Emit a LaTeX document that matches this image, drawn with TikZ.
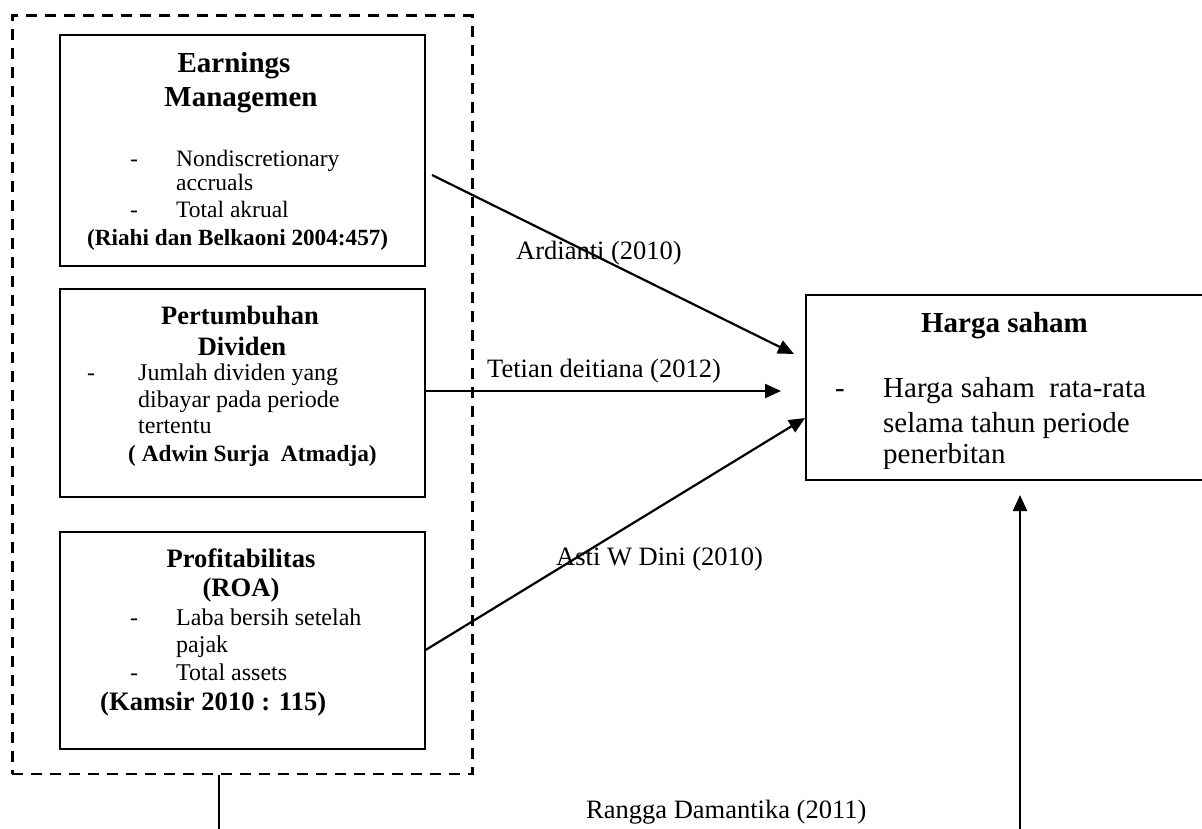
\documentclass[tikz,border=0pt]{standalone}
\usepackage{fontspec}
\setmainfont{Liberation Serif}
\usetikzlibrary{arrows.meta}
\newcommand\fsz[1]{\fontsize{#1}{#1}\selectfont}
\tikzset{
  varbox/.style={draw, line width=1.6pt, rectangle, minimum width=365pt, inner sep=0pt},
  grpbox/.style={draw, line width=2.6pt, dash pattern=on 11pt off 8pt, rectangle, inner sep=0pt},
  txt/.style={anchor=base west, inner sep=0pt},
  ctxt/.style={anchor=base, inner sep=0pt},
  arr/.style={line width=2.2pt, -{Triangle[length=16pt,width=14pt]}},
  plain/.style={line width=1.6pt}
}
\begin{document}
\begin{tikzpicture}[x=1pt,y=-1pt]
\useasboundingbox (0,0) rectangle (1202,829);
% group box
\node[grpbox, minimum width=460pt, minimum height=758pt, anchor=north west] (grp) at (11,14.5) {};
% variable boxes
\node[varbox, minimum height=231pt, anchor=north west] (em) at (59,34) {};
\node[varbox, minimum height=208pt, anchor=north west] (pd) at (59,288) {};
\node[varbox, minimum height=217pt, anchor=north west] (pr) at (59,531) {};
% Harga saham box (right edge runs past the page)
\begin{scope}
\clip (0,0) rectangle (1202,829);
\node[varbox, minimum width=420pt, minimum height=185pt, anchor=north west] (hs) at (805,294) {};
\end{scope}
% texts box 1
\node[ctxt] (em1) at (234,73) {\fsz{29}\bfseries Earnings};
\node[ctxt] (em2) at (241,107) {\fsz{29}\bfseries Managemen};
\node[txt] (em3d) at (130,167) {\fsz{23.5}-};
\node[txt] (em3) at (176,167) {\fsz{23.5}Nondiscretionary};
\node[txt] (em4) at (176,191) {\fsz{23.5}accruals};
\node[txt] (em5d) at (130,218) {\fsz{23.5}-};
\node[txt] (em5) at (176,218) {\fsz{23.5}Total akrual};
\node[txt] (em6) at (87,245) {\fsz{23.2}\bfseries (Riahi dan Belkaoni 2004:457)};
% texts box 2
\node[ctxt] (pd1) at (240,324) {\fsz{26.5}\bfseries Pertumbuhan};
\node[ctxt] (pd2) at (242,355) {\fsz{26.5}\bfseries Dividen};
\node[txt] (pd3d) at (87,380) {\fsz{24}-};
\node[txt] (pd3) at (138,380) {\fsz{24}Jumlah dividen yang};
\node[txt] (pd4) at (138,407) {\fsz{24}dibayar pada periode};
\node[txt] (pd5) at (138,433) {\fsz{24}tertentu};
\node[txt] (pd6) at (128,461) {\fsz{23.3}\bfseries ( Adwin Surja\ \ Atmadja)};
% texts box 3
\node[ctxt] (pr1) at (241,567) {\fsz{26.6}\bfseries Profitabilitas};
\node[ctxt] (pr2) at (241,596) {\fsz{26.6}\bfseries (ROA)};
\node[txt] (pr3d) at (130,625) {\fsz{24}-};
\node[txt] (pr3) at (176,625) {\fsz{24}Laba bersih setelah};
\node[txt] (pr4) at (176,652) {\fsz{24}pajak};
\node[txt] (pr5d) at (130,680) {\fsz{24}-};
\node[txt] (pr5) at (176,680) {\fsz{24}Total assets};
\node[txt] (pr6) at (100,710) {\fsz{26.6}\bfseries (Kamsir 2010 : 115)};
% Harga saham texts
\node[ctxt] (hs1) at (1004.5,332) {\fsz{29}\bfseries Harga saham};
\node[txt] (hs2d) at (835,397) {\fsz{29}-};
\node[txt] (hs2) at (883,397) {\fsz{29}Harga saham\ \ rata-rata};
\node[txt] (hs3) at (883,432) {\fsz{29}selama tahun periode};
\begin{scope}
\clip (800,300) rectangle (1202,468);
\node[txt] (hs4) at (883,463) {\fsz{29}penerbitan};
\end{scope}
% labels
\node[txt] (l1) at (516,259) {\fsz{26.5}Ardianti (2010)};
\node[txt] (l2) at (487,377) {\fsz{26.5}Tetian deitiana (2012)};
\node[txt] (l3) at (556,565) {\fsz{26.5}Asti W Dini (2010)};
\node[txt] (l4) at (586,818) {\fsz{26.5}Rangga Damantika (2011)};
% connector end points
\coordinate (a1s) at (432,175);
\coordinate (a1e) at (794,354);
\coordinate (a2e) at (781,391);
\coordinate (a3s) at (424,650);
\coordinate (a3e) at (805,418);
\coordinate (vb) at (219,829);
\coordinate (ub) at (1020,829);
\coordinate (ut) at (1020,495);
% connectors
\draw[arr] (a1s) -- (a1e);
\draw[arr] (pd.east |- a2e) -- (a2e);
\draw[arr] (pr.east |- a3s) -- (a3e);
\draw[plain] (grp.south -| vb) -- (vb);
\draw[arr] (ub) -- (ut);
\end{tikzpicture}
\end{document}
